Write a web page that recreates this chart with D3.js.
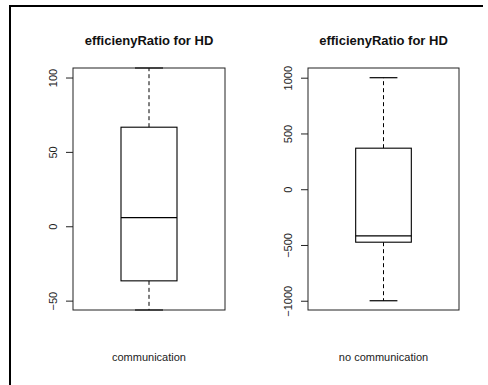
<!DOCTYPE html>
<html><head><meta charset="utf-8">
<script src="https://cdn.jsdelivr.net/npm/d3@7"></script>
<style>body{margin:0;background:#fff}svg{display:block;font-family:"Liberation Sans",Arial,sans-serif}</style>
</head><body>
<svg id="c" width="488" height="385"></svg>
<script>
const categories = ["communication", "no communication"];
const titles = ["efficienyRatio for HD", "efficienyRatio for HD"];
const whiskerLow = [-56.3, -1000];
const q1 = [-36.7, -475];
const medians = [5.8, -419];
const q3 = [66.6, 368];
const whiskerHigh = [106.4, 1000];
const yDomains = [[-56.3, 106.4], [-1083, 1087]];
const tickValues = [[-50, 0, 50, 100], [-1000, -500, 0, 500, 1000]];

const svg = d3.select("#c");
// outer frame (left + top)
svg.append("path").attr("d", "M10,385V6H483").attr("fill", "none").attr("stroke", "#000").attr("stroke-width", 2);

const panels = [{x0: 73, x1: 225}, {x0: 308, x1: 459}];
const yTop = 68, yBot = 310;

panels.forEach((p, i) => {
  const g = svg.append("g");
  const y = d3.scaleLinear().domain(yDomains[i]).range([yBot, yTop]);
  const x = d3.scaleBand().domain([categories[i]]).range([p.x0, p.x1]).paddingInner(0).paddingOuter(0.857);
  const cx = x(categories[i]) + x.bandwidth() / 2;
  const bw = x.bandwidth();

  // whiskers
  g.append("line").attr("x1", cx).attr("x2", cx).attr("y1", y(q3[i])).attr("y2", y(whiskerHigh[i]))
    .attr("stroke", "#000").attr("stroke-dasharray", "4,3");
  g.append("line").attr("x1", cx).attr("x2", cx).attr("y1", y(q1[i])).attr("y2", y(whiskerLow[i]))
    .attr("stroke", "#000").attr("stroke-dasharray", "4,3");
  [whiskerHigh[i], whiskerLow[i]].forEach(v => {
    g.append("line").attr("x1", cx - bw / 4).attr("x2", cx + bw / 4).attr("y1", y(v)).attr("y2", y(v))
      .attr("stroke", "#000").attr("stroke-width", 1.2);
  });
  // box
  g.append("rect").attr("x", x(categories[i])).attr("width", bw)
    .attr("y", y(q3[i])).attr("height", y(q1[i]) - y(q3[i]))
    .attr("fill", "#fff").attr("stroke", "#000").attr("stroke-width", 1.1);
  g.append("line").attr("x1", x(categories[i])).attr("x2", x(categories[i]) + bw)
    .attr("y1", y(medians[i])).attr("y2", y(medians[i])).attr("stroke", "#000").attr("stroke-width", 1.3);

  // plot frame
  g.append("rect").attr("x", p.x0).attr("y", yTop).attr("width", p.x1 - p.x0).attr("height", yBot - yTop)
    .attr("fill", "none").attr("stroke", "#222").attr("stroke-width", 1);

  // y axis
  const ax = g.append("g").attr("transform", `translate(${p.x0},0)`)
    .call(d3.axisLeft(y).tickValues(tickValues[i]).tickSize(7).tickSizeOuter(0).tickFormat(d3.format("d")));
  ax.select(".domain").remove();
  ax.selectAll(".tick line").attr("stroke", "#222");
  ax.selectAll(".tick text")
    .attr("font-family", '"Liberation Sans", Arial, sans-serif').attr("font-size", 11).attr("fill", "#222")
    .attr("x", null).attr("dy", null).attr("text-anchor", "middle")
    .attr("transform", "translate(-16,0) rotate(-90)");

  // title
  svg.append("text").attr("x", (p.x0 + p.x1) / 2).attr("y", 44.5).attr("text-anchor", "middle")
    .attr("font-weight", "bold").attr("font-size", 13).attr("fill", "#111").text(titles[i]);
  // x label
  svg.append("text").attr("x", cx).attr("y", 361).attr("text-anchor", "middle")
    .attr("font-size", 11).attr("fill", "#222").text(categories[i]);
});
</script>
</body></html>
